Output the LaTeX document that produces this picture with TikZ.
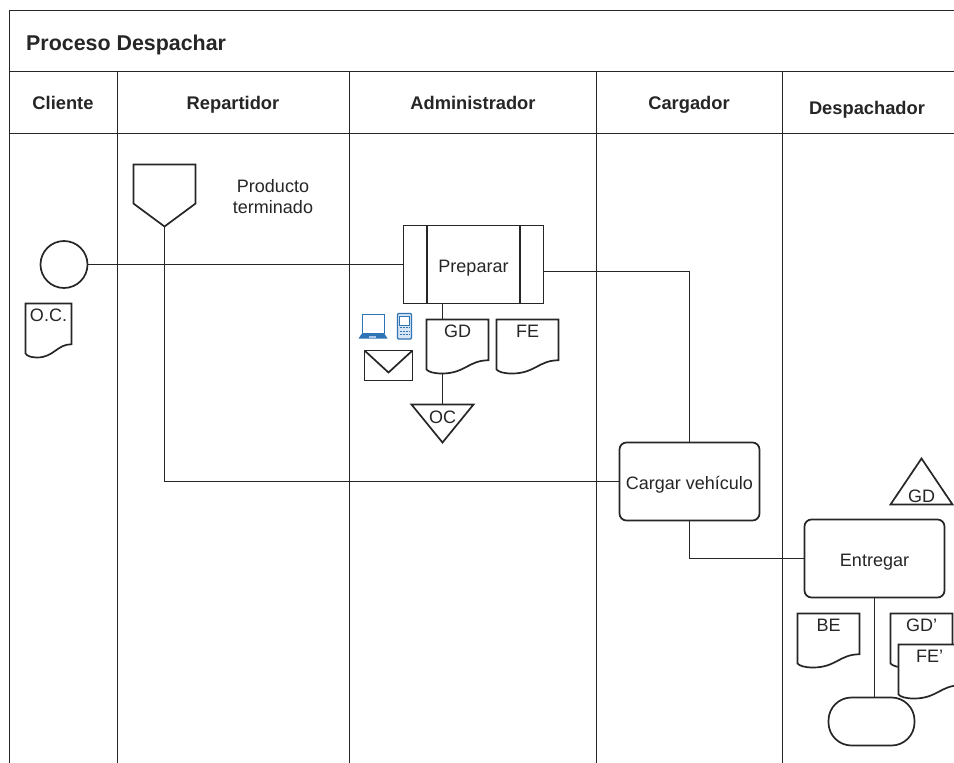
\documentclass[tikz,border=0pt]{standalone}
\usepackage{fontspec}
\setmainfont{Liberation Sans}
\usepackage{xcolor}
\usetikzlibrary{positioning}
\definecolor{ink}{HTML}{262626}
\definecolor{iconblue}{HTML}{2F74B5}
\definecolor{iconpale}{HTML}{A9C8E8}

\makeatletter
\newdimen\figx \newdimen\figy \newdimen\figw \newdimen\figh
\newcommand\figpt[2]{\pgfpoint{\figx+#1*\figw}{\figy+#2*\figh}}
\newcommand\figshape[2]{\pgfdeclareshape{#1}{%
  \inheritsavedanchors[from=rectangle]
  \inheritanchorborder[from=rectangle]
  \inheritanchor[from=rectangle]{center}
  \inheritanchor[from=rectangle]{north}
  \inheritanchor[from=rectangle]{south}
  \inheritanchor[from=rectangle]{east}
  \inheritanchor[from=rectangle]{west}
  \backgroundpath{%
    \southwest \figx=\pgf@x \figy=\pgf@y
    \northeast \figw=\pgf@x \figh=\pgf@y
    \advance\figw by -\figx \advance\figh by -\figy
    #2}}}
\figshape{docu}{%
  \pgfpathmoveto{\figpt{0}{1}}
  \pgfpathlineto{\figpt{1}{1}}
  \pgfpathlineto{\figpt{1}{.245}}
  \pgfpathcurveto{\figpt{.68}{.245}}{\figpt{.62}{0}}{\figpt{.25}{0}}
  \pgfpathcurveto{\figpt{.12}{0}}{\figpt{.03}{.03}}{\figpt{0}{.075}}
  \pgfpathclose}
\figshape{funnel}{%
  \pgfpathmoveto{\figpt{0}{1}}
  \pgfpathlineto{\figpt{1}{1}}
  \pgfpathlineto{\figpt{1}{.37}}
  \pgfpathlineto{\figpt{.5}{0}}
  \pgfpathlineto{\figpt{0}{.37}}
  \pgfpathclose}
\figshape{triup}{%
  \pgfpathmoveto{\figpt{0}{0}}
  \pgfpathlineto{\figpt{1}{0}}
  \pgfpathlineto{\figpt{.5}{1}}
  \pgfpathclose}
\figshape{tridown}{%
  \pgfpathmoveto{\figpt{0}{1}}
  \pgfpathlineto{\figpt{1}{1}}
  \pgfpathlineto{\figpt{.5}{0}}
  \pgfpathclose}
\figshape{subproc}{%
  \pgfpathrectanglecorners{\figpt{0}{0}}{\figpt{1}{1}}
  \pgfpathmoveto{\figpt{.168}{0}}
  \pgfpathlineto{\figpt{.168}{1}}
  \pgfpathmoveto{\figpt{.832}{0}}
  \pgfpathlineto{\figpt{.832}{1}}}
\makeatother

\begin{document}
\begin{tikzpicture}[
    x=1pt, y=-1pt,
    txt/.style={text=ink, font=\fontsize{18}{21}\selectfont, align=center,
                text height=16pt, text depth=0pt},
    head/.style={text=ink, font=\fontsize{18.3}{21}\selectfont\bfseries,
                 text height=13pt, text depth=0pt, inner sep=0pt},
    figure/.style={draw=ink, line width=1.7pt, fill=white, outer sep=0pt,
                 inner sep=0pt},
    doc/.style={figure, shape=docu, minimum width=62pt, minimum height=54pt,
                label={[txt, anchor=center, yshift=-10pt]north:#1}},
    task/.style={figure, txt, rounded corners=7pt, minimum width=140pt,
                 minimum height=78pt},
    store/.style={figure, minimum width=62pt, minimum height=#1},
    wire/.style={draw=ink, line width=1.7pt},
    lane/.style={draw=ink, line width=1.8pt}]
  \useasboundingbox (0,0) rectangle (954,763);
  \clip (0,0) rectangle (954,763);
  \fill[white] (0,0) rectangle (954,763);

  \draw[lane] (954,10.5) -- (9.5,10.5) -- (9.5,763);
  \draw[lane] (9.5,71.5) -- (954,71.5);
  \draw[lane] (9.5,133.5) -- (954,133.5);
  \foreach \x in {117.5,349.5,596.5,782.5}
    \draw[lane] (\x,71) -- (\x,763);

  \node[head, anchor=west, font=\fontsize{21.4}{25}\selectfont\bfseries, text height=15.3pt] (title) at (26,43) {Proceso Despachar};
  \foreach \name/\x/\y in {Cliente/63/103,Repartidor/233/103,Administrador/473/103,Cargador/689/103,Despachador/867/108}
    \node[head] (h\name) at (\x,\y) {\name};

  \node[figure, shape=circle, minimum size=47pt] (start) at (64,264.5) {};
  \node[figure, shape=funnel, minimum width=62pt, minimum height=62pt] (stock) at (164.5,195.5) {};
  \node[txt, text height=14pt] (stocktxt) at (273,206) {Producto\\terminado};
  \node[figure, txt, shape=subproc, minimum width=140pt, minimum height=78pt] (prep) at (473.5,264.5) {Preparar};
  \node[task] (carga) at (689.5,481.5) {Cargar vehículo};
  \node[task] (ent) at (874.5,558.5) {Entregar};
  \node[store=38pt, shape=tridown, label={[txt, anchor=center, yshift=-10.5pt]north:OC}] (oc) at (442.5,423.5) {};
  \node[store=46pt, shape=triup, label={[txt, anchor=center, yshift=10pt]south:GD}] (gdin) at (921.5,481.5) {};
  \node[figure, rounded corners=23pt, minimum width=86pt, minimum height=48pt] (pill) at (871.5,721.5) {};

  \draw[wire] (start) -- (prep.west);
  \draw[wire] ([yshift=-7pt]prep.east) -| (carga.north);
  \draw[wire] (stock.south) |- (carga.west);
  \draw[wire] (carga.south) |- (ent.west);
  \draw[wire] (ent.south) -- (ent.south |- pill.north);
  \draw[wire] (oc.north) -- (oc.north |- prep.south);

  \node[doc=O.C., minimum width=46pt] (oc0) at (48.5,330.5) {};
  \node[doc=GD] (gd) at (457.5,346.5) {};
  \node[doc=FE, right=8pt of gd] (fe) {};
  \node[doc=BE] (be) at (828.5,640.5) {};
  \node[doc=GD'] (gd1) at (921.5,640.5) {};
  \node[doc=FE'] (fe1) at (929.5,671.5) {};

  \node[figure, minimum width=48pt, minimum height=30pt] (mail) at (388.5,365.5) {};
  \draw[wire] (mail.north west) -- ([yshift=8pt]mail.south) -- (mail.north east);

  % laptop and phone
  \draw[iconblue, line width=1.5pt, fill=white] (362.5,314.5) rectangle (384.5,333.5);
  \fill[iconblue] (361.5,334) -- (384.5,334) -- (387.5,338.5) -- (358.5,338.5) -- cycle;
  \fill[iconpale] (369,336) rectangle (376,337.5);
  \draw[iconblue, line width=1.2pt, fill=iconpale!45, rounded corners=1pt] (397.5,313.5) rectangle (411.5,339);
  \draw[iconblue, line width=.7pt, fill=white] (399.5,316.5) rectangle (409.5,325);
  \foreach \y in {327.5,331,334.5}
    \draw[iconblue, line width=.9pt, dash pattern=on 2pt off 1pt] (399.5,\y) -- (409.5,\y);
\end{tikzpicture}
\end{document}
